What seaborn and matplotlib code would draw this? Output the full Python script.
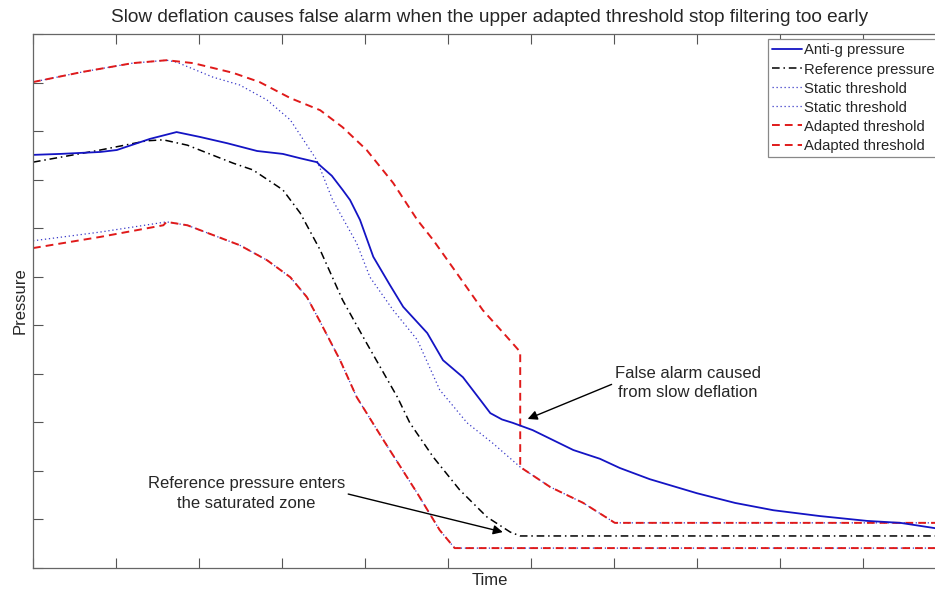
import numpy as np
import pandas as pd
import seaborn as sns
import matplotlib
matplotlib.use("Agg")
import matplotlib.pyplot as plt
from matplotlib.lines import Line2D

# ---------------- data (time units, pressure units) ----------------
antig_t = [0, 0.33, 0.81, 1.01, 1.41, 1.73, 2.01, 2.34, 2.70, 3.01, 3.22, 3.42, 3.46,
           3.60, 3.73, 3.82, 3.94, 4.10, 4.30, 4.46, 4.75, 4.94, 5.18, 5.39, 5.51, 5.65, 5.78,
           6.02, 6.51, 6.83, 7.07, 7.43, 8.00, 8.46, 8.92, 9.48, 10.05, 10.45, 10.87, 11.0]
antig_p = [8.51, 8.53, 8.57, 8.61, 8.84, 8.98, 8.88, 8.75, 8.59, 8.53, 8.44, 8.36, 8.29,
           8.08, 7.79, 7.58, 7.17, 6.41, 5.83, 5.38, 4.84, 4.28, 3.93, 3.46, 3.19, 3.06, 2.99,
           2.84, 2.43, 2.25, 2.06, 1.83, 1.54, 1.34, 1.19, 1.07, 0.97, 0.93, 0.82, 0.80]

ref_t = [0, 0.81, 1.37, 1.57, 1.86, 2.41, 2.65, 3.01, 3.22, 3.46, 3.73, 4.02, 4.39,
         4.54, 4.82, 5.14, 5.47, 5.75, 5.87, 11.0]
ref_p = [8.36, 8.61, 8.80, 8.82, 8.71, 8.34, 8.20, 7.79, 7.31, 6.55, 5.52, 4.63, 3.52,
         2.99, 2.29, 1.61, 1.05, 0.74, 0.66, 0.66]

static_up_t = [0, 0.60, 1.20, 1.61, 1.73, 2.17, 2.49, 2.82, 3.10, 3.42, 3.61, 3.90, 4.06,
               4.34, 4.63, 4.90, 5.23, 5.54, 5.87, 6.23, 6.63, 7.01, 11.0]
static_up_p = [10.01, 10.22, 10.40, 10.46, 10.42, 10.11, 9.95, 9.64, 9.23, 8.40, 7.58, 6.69, 5.99,
               5.31, 4.70, 3.67, 2.99, 2.57, 2.08, 1.67, 1.34, 0.93, 0.93]

static_lo_t = [0, 0.81, 1.61, 1.86, 2.49, 2.82, 3.10, 3.30, 3.46, 3.70, 3.90, 4.22, 4.63,
               4.90, 5.08, 11.0]
static_lo_p = [6.74, 6.92, 7.13, 7.06, 6.65, 6.34, 5.99, 5.58, 5.07, 4.28, 3.52, 2.64, 1.54,
               0.78, 0.41, 0.41]

adapt_up_t = [0, 0.60, 1.20, 1.61, 1.93, 2.41, 2.73, 3.10, 3.46, 3.73, 4.02, 4.34, 4.63,
              4.82, 5.14, 5.42, 5.71, 5.87, 5.87, 6.23, 6.63, 7.01, 11.0]
adapt_up_p = [10.01, 10.22, 10.40, 10.46, 10.40, 10.20, 10.01, 9.68, 9.43, 9.08, 8.61, 7.93, 7.17,
              6.76, 5.99, 5.31, 4.76, 4.45, 2.08, 1.67, 1.34, 0.93, 0.93]

adapt_lo_t = [0, 0.81, 1.57, 1.61, 1.86, 2.49, 2.82, 3.10, 3.30, 3.46, 3.70, 3.90, 4.22,
              4.63, 4.90, 5.08, 11.0]
adapt_lo_p = [6.59, 6.82, 7.06, 7.13, 7.06, 6.65, 6.34, 5.99, 5.58, 5.07, 4.28, 3.52, 2.64,
              1.54, 0.78, 0.41, 0.41]

labels = ["Anti-g pressure", "Reference pressure", "Static threshold", "Static threshold",
          "Adapted threshold", "Adapted threshold"]
title = "Slow deflation causes false alarm when the upper adapted threshold stop filtering too early"

# ---------------- styling ----------------
sns.set_style("white")
plt.rcParams["font.family"] = ["Liberation Sans", "DejaVu Sans"]

BLUE = "#1414c4"
DOT = "#3838c8"
RED = "#e01a1a"

fig = plt.figure(figsize=(9.35, 5.90), dpi=100)
ax = fig.add_axes([33 / 935, 22 / 590, 913 / 935, 534 / 590])

series = [
    (static_up_t, static_up_p, dict(color=DOT, lw=0.9, linestyle=(0, (1, 2.2)))),
    (static_lo_t, static_lo_p, dict(color=DOT, lw=0.9, linestyle=(0, (1, 2.2)))),
    (adapt_up_t, adapt_up_p, dict(color=RED, lw=1.4, linestyle=(0, (4, 2.6)))),
    (adapt_lo_t, adapt_lo_p, dict(color=RED, lw=1.4, linestyle=(0, (4, 2.6)))),
    (ref_t, ref_p, dict(color="black", lw=1.1, linestyle=(0, (5, 2.5, 1, 2.5)))),
    (antig_t, antig_p, dict(color=BLUE, lw=1.3, linestyle="-")),
]
for t, p, kw in series:
    df = pd.DataFrame({"t": t, "p": p})
    sns.lineplot(data=df, x="t", y="p", ax=ax, sort=False, estimator=None, legend=False, **kw)

ax.set_xlim(0, 11)
ax.set_ylim(0, 11)
ax.set_xticks(np.arange(0, 12, 1))
ax.set_yticks(np.arange(0, 12, 1))
ax.set_xticklabels([])
ax.set_yticklabels([])
ax.tick_params(direction="in", length=7, width=0.8, color="#555555",
               top=True, right=True, bottom=True, left=True)
for s in ax.spines.values():
    s.set_color("#666666")
    s.set_linewidth(0.9)

ax.set_xlabel("Time", fontsize=12)
ax.set_ylabel("Pressure", fontsize=12)
ax.xaxis.set_label_coords(0.5, -0.0094)
ax.yaxis.set_label_coords(-0.006, 0.5)
ax.set_title(title, fontsize=13.7, pad=8.5)

# legend
handles = [
    Line2D([], [], color=BLUE, lw=1.3),
    Line2D([], [], color="black", lw=1.1, linestyle=(0, (5, 2.5, 1, 2.5))),
    Line2D([], [], color=DOT, lw=0.9, linestyle=(0, (1, 2.2))),
    Line2D([], [], color=DOT, lw=0.9, linestyle=(0, (1, 2.2))),
    Line2D([], [], color=RED, lw=1.4, linestyle=(0, (4, 2.6))),
    Line2D([], [], color=RED, lw=1.4, linestyle=(0, (4, 2.6))),
]
leg = ax.legend(handles, labels, loc="upper left", bbox_to_anchor=(0.805, 0.9906),
                borderaxespad=0, fontsize=10.7, labelspacing=0.34, handlelength=2.0,
                handletextpad=0.15, borderpad=0.3, fancybox=False, framealpha=1,
                edgecolor="#888888")
leg.get_frame().set_linewidth(0.9)

# annotations
ax.annotate("False alarm caused\nfrom slow deflation", xy=(5.96, 3.07), xytext=(7.89, 3.81),
            ha="center", va="center", fontsize=12, linespacing=1.4,
            arrowprops=dict(arrowstyle="-|>", color="black", lw=1.0, mutation_scale=14,
                            relpos=(0, 0.5), shrinkA=0, shrinkB=0))
ax.annotate("Reference pressure enters\nthe saturated zone", xy=(5.66, 0.74), xytext=(2.57, 1.54),
            ha="center", va="center", fontsize=12, linespacing=1.4,
            arrowprops=dict(arrowstyle="-|>", color="black", lw=1.0, mutation_scale=14,
                            relpos=(1, 0.5), shrinkA=0, shrinkB=0))

fig.savefig("out.png", dpi=100)
